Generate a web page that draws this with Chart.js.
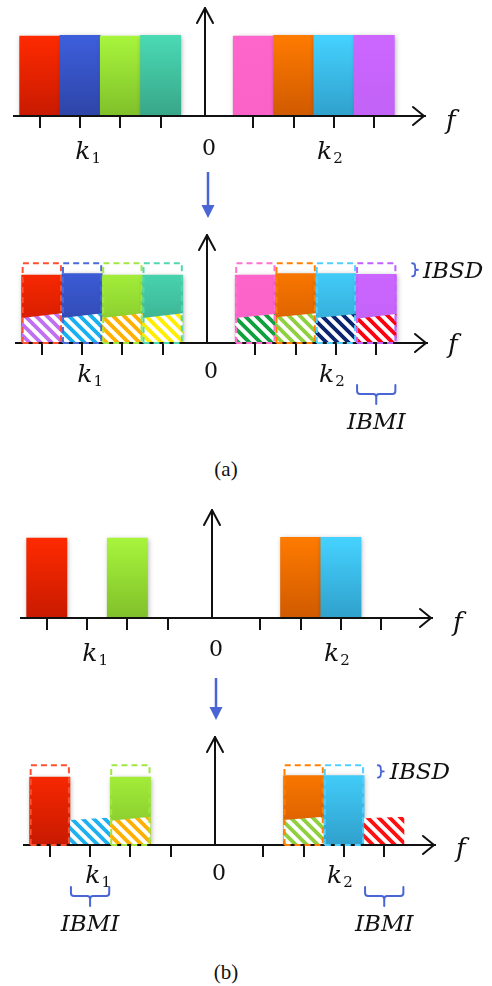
<!DOCTYPE html>
<html><head><meta charset="utf-8">
<script src="https://cdn.jsdelivr.net/npm/chart.js@4.4.0/dist/chart.umd.min.js"></script>
<style>
html,body{margin:0;padding:0;background:#fff;}
#wrap{position:relative;width:492px;height:986px;overflow:hidden;background:#fff;}
canvas{position:absolute;left:0;}
.cap{position:absolute;left:186px;width:80px;text-align:center;font-family:"Liberation Serif","Times New Roman",serif;font-size:21px;color:#111;line-height:24px;}
</style></head><body>
<div id="wrap">
<canvas id="p1" width="492" height="170" style="top:0px"></canvas>
<canvas id="p2" width="492" height="275" style="top:170px"></canvas>
<div class="cap" style="top:457px">(a)</div>
<canvas id="p3" width="492" height="190" style="top:490px"></canvas>
<canvas id="p4" width="492" height="275" style="top:670px"></canvas>
<div class="cap" style="top:960px">(b)</div>
</div>
<script>
// ---------------- DATA ----------------
const tickPositions = [-4.1, -3.1, -2.1, -1.1, 1.2, 2.2, 3.2, 4.2];
// (a) eight adjacent sub-bands
const bandsA      = ['a1', 'a2', 'a3', 'a4', 'a5', 'a6', 'a7', 'a8'];
const bandPosA    = [-4.1, -3.1, -2.1, -1.1, 1.2, 2.2, 3.2, 4.2];
const powerA      = [0.99, 1.00, 0.99, 1.00, 0.99, 1.00, 1.00, 1.00];
const idealA      = [1.00, 1.00, 1.00, 1.00, 1.00, 1.00, 1.00, 1.00];
const receivedA   = [0.84, 0.86, 0.84, 0.84, 0.84, 0.86, 0.86, 0.85];
const ibmiLeftA   = [0.31, 0.31, 0.31, 0.31, 0.31, 0.32, 0.31, 0.30];
const ibmiRightA  = [0.37, 0.37, 0.37, 0.37, 0.36, 0.37, 0.36, 0.36];
// (b) four sparse sub-bands
const bandsB      = ['b1', 'b2', 'b3', 'b4'];
const bandPosB    = [-4.1, -2.1, 2.2, 3.2];
const powerB      = [0.99, 0.99, 1.00, 1.00];
const idealB      = [1.00, 1.00, 1.00, 1.00];
const receivedB   = [0.84, 0.84, 0.86, 0.86];
const ibmiPosB    = [-3.1, -2.1, 2.2, 4.2];
const ibmiLeftB   = [0.31, 0.30, 0.31, 0.33];
const ibmiRightB  = [0.34, 0.35, 0.35, 0.35];

// ---------------- STYLE ----------------
const X_MIN = -4.74, X_MAX = 5.46, Y_MAX = 1.35;
const BLUE = '#4a66d4';
const topColA  = ['#ff2a00', '#3d5fdc', '#a8f53c', '#4adab4', '#ff66cc', '#ff7b00', '#45d2ff', '#cc66ff'];
const botColA  = ['#c81a00', '#2e45a8', '#80c02a', '#38a688', '#fb62c8', '#d05a00', '#30a0cc', '#c262f6'];
const dashColA = ['#ff5030', '#4a6ad8', '#a0e840', '#50d8b0', '#ff70d0', '#ff8000', '#50d0ff', '#c060ff'];
const hatchColA = ['#c070f0', '#18b0f0', '#ffb000', '#ffee00', '#10a040', '#90d040', '#0a2670', '#ff0010'];
const topColB  = ['#ff2a00', '#a8f53c', '#ff7b00', '#45d2ff'];
const botColB  = ['#c81a00', '#80c02a', '#d05a00', '#30a0cc'];
const dashColB = ['#ff5030', '#a0e840', '#ff8000', '#50d0ff'];
const hatchColB = ['#20b0f0', '#ffb000', '#90d040', '#ff1010'];

function pts(xs, ys) { return xs.map((x, i) => ({ x: x, y: ys[i] })); }
function gradFn(tops, bots) {
  return (c) => {
    const i = c.dataIndex;
    if (i === undefined) return tops[0];
    const chart = c.chart;
    if (!chart.chartArea || !chart.scales.y) return tops[i];
    const ys = chart.scales.y;
    const g = chart.ctx.createLinearGradient(0, ys.getPixelForValue(1), 0, ys.getPixelForValue(0));
    g.addColorStop(0, tops[i]); g.addColorStop(1, bots[i]);
    return g;
  };
}
function hatch(canvasId, color) {
  const s = 11, c = document.createElement('canvas'); c.width = s; c.height = s;
  const g = c.getContext('2d');
  g.fillStyle = '#fff'; g.fillRect(0, 0, s, s);
  g.strokeStyle = color; g.lineWidth = 3.8; g.beginPath();
  for (const a of [-s, 0, s]) { g.moveTo(a - 2, -2); g.lineTo(a + s + 2, s + 2); }
  g.stroke();
  return document.getElementById(canvasId).getContext('2d').createPattern(c, 'repeat');
}

function px(chart, v) { return chart.scales.x.getPixelForValue(v); }
function py(chart, v) { return chart.scales.y.getPixelForValue(v); }

const diagram = {
  id: 'diagram',
  beforeDatasetDraw(chart, args) {
    const ds = chart.data.datasets[args.index];
    const ctx = chart.ctx;
    ctx.save();
    if (ds.shadow) {
      ctx.shadowColor = 'rgba(0,0,0,0.32)'; ctx.shadowBlur = 5; ctx.shadowOffsetX = 1; ctx.shadowOffsetY = 1;
    }
    if (ds.slantLeft) {
      ctx.beginPath();
      args.meta.data.forEach((el, i) => {
        const p = el.getProps(['x', 'width', 'base'], true);
        const L = p.x - p.width / 2, R = p.x + p.width / 2;
        ctx.moveTo(L, p.base + 2);
        ctx.lineTo(L, py(chart, ds.slantLeft[i]));
        ctx.lineTo(R, py(chart, ds.slantRight[i]));
        ctx.lineTo(R, p.base + 2);
        ctx.closePath();
      });
      ctx.clip();
    }
  },
  afterDatasetDraw(chart) { chart.ctx.restore(); },
  afterDraw(chart, args, o) {
    const ctx = chart.ctx, a = chart.chartArea;
    const axisY = a.bottom;
    // dashed outlines (ideal levels)
    chart.data.datasets.forEach((ds, di) => {
      if (!ds.dashColors) return;
      chart.getDatasetMeta(di).data.forEach((el, i) => {
        const p = el.getProps(['x', 'y', 'width', 'base'], true);
        const L = p.x - p.width / 2 + 1, R = p.x + p.width / 2 - 1;
        ctx.save();
        ctx.setLineDash([6, 4]); ctx.lineWidth = 2; ctx.strokeStyle = ds.dashColors[i];
        ctx.beginPath(); ctx.moveTo(L, p.base); ctx.lineTo(L, p.y + 1); ctx.lineTo(R, p.y + 1); ctx.lineTo(R, p.base); ctx.stroke();
        ctx.beginPath(); ctx.moveTo(L, p.base); ctx.lineTo(R, p.base); ctx.stroke();
        ctx.restore();
      });
    });
    ctx.save();
    ctx.strokeStyle = '#111'; ctx.lineWidth = 2; ctx.lineCap = 'round'; ctx.lineJoin = 'round';
    const x0 = Math.round(px(chart, 0));
    ctx.beginPath(); ctx.moveTo(x0, axisY); ctx.lineTo(x0, a.top + 1); ctx.stroke();
    ctx.beginPath(); ctx.moveTo(x0 - 8, a.top + 16); ctx.lineTo(x0, a.top + 1); ctx.lineTo(x0 + 8, a.top + 16); ctx.stroke();
    ctx.beginPath(); ctx.moveTo(a.right - 12, axisY - 9); ctx.lineTo(a.right - 1, axisY); ctx.lineTo(a.right - 12, axisY + 9); ctx.stroke();
    // blue transition arrow
    if (o.blueArrow) {
      const x = x0 + 1, y0 = a.top + o.blueArrow[0], y1 = a.top + o.blueArrow[1];
      ctx.strokeStyle = BLUE; ctx.lineWidth = 2.5; ctx.lineCap = 'butt';
      ctx.beginPath(); ctx.moveTo(x, y0); ctx.lineTo(x, y1 - 10); ctx.stroke();
      ctx.fillStyle = BLUE; ctx.beginPath(); ctx.moveTo(x - 6.5, y1 - 13); ctx.lineTo(x + 6.5, y1 - 13); ctx.lineTo(x, y1); ctx.closePath(); ctx.fill();
    }
    // axis labels
    ctx.textBaseline = 'alphabetic'; ctx.fillStyle = '#111';
    (o.labels || []).forEach(l => {
      const cx = px(chart, l.v), by = axisY + l.dy;
      const main = (l.upright ? '' : 'italic ') + l.size + 'px "DejaVu Serif"';
      const subF = '15px "DejaVu Serif"';
      ctx.font = main; const w1 = ctx.measureText(l.t).width;
      let w2 = 0;
      if (l.sub) { ctx.font = subF; w2 = ctx.measureText(l.sub).width + 1; }
      const sx = cx - (w1 + w2) / 2;
      ctx.textAlign = 'left';
      ctx.font = main; ctx.fillText(l.t, sx, by);
      if (l.sub) { ctx.font = subF; ctx.fillText(l.sub, sx + w1 + 1, by + 4); }
    });
    // IBSD brace
    if (o.ibsd) {
      const x = px(chart, o.ibsd.v), t = py(chart, o.ibsd.top) + 1, b = py(chart, o.ibsd.bottom) + 2, m = (t + b) / 2;
      ctx.strokeStyle = BLUE; ctx.lineWidth = 1.8; ctx.lineCap = 'round';
      ctx.beginPath();
      ctx.moveTo(x, t); ctx.quadraticCurveTo(x + 3, t, x + 3, t + 3); ctx.lineTo(x + 3, m - 1.5);
      ctx.quadraticCurveTo(x + 3, m, x + 6, m); ctx.quadraticCurveTo(x + 3, m, x + 3, m + 1.5);
      ctx.lineTo(x + 3, b - 3); ctx.quadraticCurveTo(x + 3, b, x, b);
      ctx.stroke();
      ctx.font = 'italic 23px "DejaVu Serif"'; ctx.fillStyle = '#111'; ctx.textAlign = 'left';
      ctx.fillText('IBSD', px(chart, o.ibsd.textV), m + 8);
    }
    // IBMI braces
    (o.ibmi || []).forEach(v => {
      const L = px(chart, v - 0.5) + 1, R = px(chart, v + 0.5) - 1, cx = (L + R) / 2;
      const y1 = axisY + 42, y2 = axisY + 51, y3 = axisY + 61;
      ctx.strokeStyle = BLUE; ctx.lineWidth = 2; ctx.lineCap = 'round';
      ctx.beginPath();
      ctx.moveTo(L, y1); ctx.lineTo(L, y2 - 3); ctx.quadraticCurveTo(L, y2, L + 3, y2); ctx.lineTo(cx - 3, y2);
      ctx.quadraticCurveTo(cx, y2, cx, y2 + 3); ctx.lineTo(cx, y3);
      ctx.moveTo(cx, y2 + 3); ctx.quadraticCurveTo(cx, y2, cx + 3, y2); ctx.lineTo(R - 3, y2);
      ctx.quadraticCurveTo(R, y2, R, y2 - 3); ctx.lineTo(R, y1);
      ctx.stroke();
      ctx.font = 'italic 23px "DejaVu Serif"'; ctx.fillStyle = '#111'; ctx.textAlign = 'center';
      ctx.fillText('IBMI', cx, axisY + 86);
    });
    ctx.restore();
  }
};

function makeChart(id, padding, datasets, diag) {
  return new Chart(document.getElementById(id), {
    type: 'bar',
    data: { datasets: datasets },
    options: {
      responsive: false, animation: false, devicePixelRatio: 1, events: [],
      layout: { padding: padding },
      plugins: { legend: { display: false }, tooltip: { enabled: false }, title: { display: false }, diagram: diag },
      datasets: { bar: { grouped: false, categoryPercentage: 1, barPercentage: 1, borderWidth: 0 } },
      scales: {
        x: {
          type: 'linear', min: X_MIN, max: X_MAX, offset: false,
          afterBuildTicks: s => { s.ticks = tickPositions.map(v => ({ value: v })); },
          ticks: { display: false },
          grid: { display: true, offset: false, drawOnChartArea: false, drawTicks: true, tickLength: 12, color: '#111', lineWidth: 2 },
          border: { display: true, color: '#111', width: 2, z: 1 }
        },
        y: { type: 'linear', display: false, min: 0, max: Y_MAX }
      }
    },
    plugins: [diagram]
  });
}

function labelsFor(dk, d0, df) {
  return [
    { t: 'k', sub: '1', v: -2.9, dy: dk, size: 25 },
    { t: '0', v: 0.1, dy: d0, size: 22, upright: true },
    { t: 'k', sub: '2', v: 3.1, dy: dk, size: 25 },
    { t: 'f', v: 6.1, dy: df, size: 26 }
  ];
}

// Panel (a) top: transmitted spectrum
makeChart('p1', { top: 7, bottom: 42, left: 14, right: 67 }, [
  { label: 'power', data: pts(bandPosA, powerA), backgroundColor: gradFn(topColA, botColA), shadow: true, order: 1 }
], { labels: labelsFor(43, 39, 13) });

// Panel (a) bottom: received spectrum
makeChart('p2', { top: 64, bottom: 90, left: 16, right: 65 }, [
  { label: 'ideal', data: pts(bandPosA, idealA), backgroundColor: 'rgba(0,0,0,0)', dashColors: dashColA, order: 1 },
  { label: 'IBMI', data: pts(bandPosA, ibmiLeftA.map((v, i) => Math.max(v, ibmiRightA[i]))),
    backgroundColor: (c => { const p = hatchColA.map(col => hatch('p2', col)); return (ctx) => p[ctx.dataIndex]; })(),
    slantLeft: ibmiLeftA, slantRight: ibmiRightA, order: 2 },
  { label: 'received', data: pts(bandPosA, receivedA), backgroundColor: gradFn(topColA, botColA), shadow: true, order: 3 }
], { labels: labelsFor(39, 35, 10), blueArrow: [-62, -16],
     ibsd: { v: 5.09, textV: 5.36, top: idealA[7], bottom: receivedA[7] }, ibmi: [bandPosA[7]] });

// Panel (b) top
makeChart('p3', { top: 19, bottom: 50, left: 21, right: 60 }, [
  { label: 'power', data: pts(bandPosB, powerB), backgroundColor: gradFn(topColB, botColB), shadow: true, order: 1 }
], { labels: labelsFor(43, 38, 13) });

// Panel (b) bottom
makeChart('p4', { top: 66, bottom: 88, left: 24, right: 57 }, [
  { label: 'ideal', data: pts(bandPosB, idealB), backgroundColor: 'rgba(0,0,0,0)', dashColors: dashColB, order: 1 },
  { label: 'IBMI', data: pts(ibmiPosB, ibmiLeftB.map((v, i) => Math.max(v, ibmiRightB[i]))),
    backgroundColor: (c => { const p = hatchColB.map(col => hatch('p4', col)); return (ctx) => p[ctx.dataIndex]; })(),
    slantLeft: ibmiLeftB, slantRight: ibmiRightB, order: 2 },
  { label: 'received', data: pts(bandPosB, receivedB), backgroundColor: gradFn(topColB, botColB), shadow: true, order: 3 }
], { labels: labelsFor(38, 35, 12), blueArrow: [-58, -16],
     ibsd: { v: 4.04, textV: 4.34, top: idealB[3], bottom: receivedB[3] }, ibmi: [ibmiPosB[0], ibmiPosB[3]] });
</script>
</body></html>
